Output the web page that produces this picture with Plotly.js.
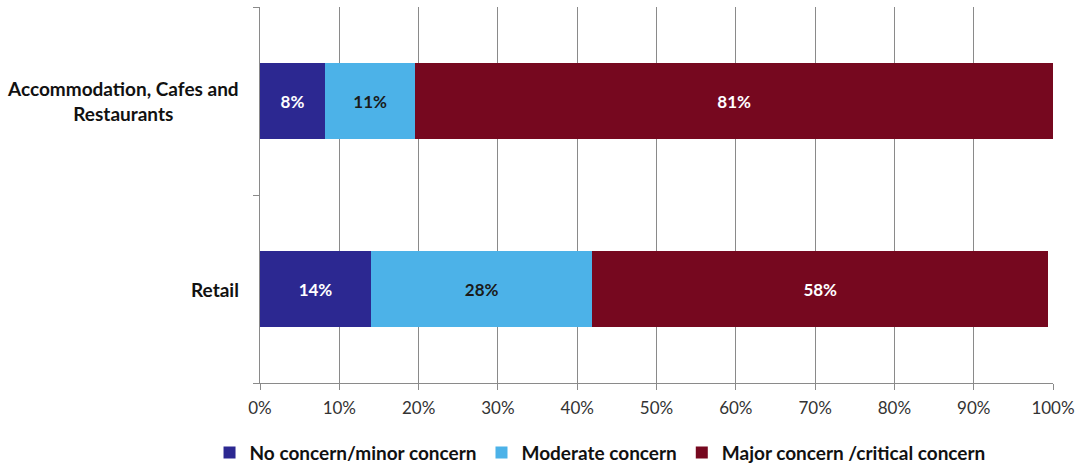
<!DOCTYPE html>
<html><head><meta charset="utf-8">
<script src="https://cdn.plot.ly/plotly-3.0.1.min.js"></script>
<style>html,body{margin:0;padding:0;background:#fff}#chart{width:1087px;height:469px}</style>
</head><body><div id="chart"></div>
<script>
const categories = ["Retail", "Accommodation, Cafes and<br>Restaurants"];
const seriesNames = ["No concern/minor concern", "Moderate concern", "Major concern /critical concern"];
const noConcern = [14.0, 8.2];
const moderate = [27.9, 11.4];
const major = [57.5, 80.4];
const labelsNo = ["14%", "8%"];
const labelsMod = ["28%", "11%"];
const labelsMaj = ["58%", "81%"];
const xTicks = [0,10,20,30,40,50,60,70,80,90,100];
const xTickText = xTicks.map(v => v + "%");

const font = "Lato, 'Open Sans', sans-serif";
function tr(name, vals, labels, color, txtColor){
  return {type:"bar", orientation:"h", name:name, y:categories, x:vals, text:labels,
    textposition:"inside", insidetextanchor:"middle", textangle:0,
    textfont:{family:font, size:17, color:txtColor, weight:"bold"},
    marker:{color:color}, width:0.4, hoverinfo:"x+name"};
}
const data = [
  tr(seriesNames[0], noConcern, labelsNo, "#2c2891", "#ffffff"),
  tr(seriesNames[1], moderate, labelsMod, "#4cb2e8", "#1a1a1a"),
  tr(seriesNames[2], major, labelsMaj, "#76081f", "#ffffff")
];
const annotations = categories.map(c => ({
  text:c, xref:"paper", yref:"y", x:0, y:c, xanchor:"right", yanchor:"middle", xshift:-19,
  align:"center", showarrow:false, font:{size:19, color:"#111", family:font, weight:"bold"}
}));
const layout = {
  width:1087, height:469, barmode:"stack",
  margin:{l:260, r:34, t:7, b:86, autoexpand:false},
  paper_bgcolor:"#fff", plot_bgcolor:"#fff",
  font:{family:font, color:"#222"},
  xaxis:{range:[0,100], tickvals:xTicks, ticktext:xTickText, showgrid:true, gridcolor:"#8a8a8a", gridwidth:1,
    showline:true, linecolor:"#8a8a8a", ticks:"outside", ticklen:6, tickcolor:"#8a8a8a", ticklabelstandoff:4,
    tickfont:{size:17, color:"#333", family:font}, zeroline:false, fixedrange:true, automargin:false},
  yaxis:{type:"category", range:[-0.5,1.5], showgrid:false, showline:true, linecolor:"#8a8a8a",
    ticks:"outside", ticklen:6, tickcolor:"#8a8a8a", tickson:"boundaries", showticklabels:false,
    fixedrange:true, automargin:false},
  annotations:annotations,
  showlegend:true,
  legend:{orientation:"h", xref:"container", x:0.552, xanchor:"center", yref:"container", y:0.035, yanchor:"middle",
    font:{size:19, color:"#111", family:font, weight:"bold"}, traceorder:"normal"},
  bargap:0.6
};
Plotly.newPlot("chart", data, layout, {displayModeBar:false, staticPlot:true});
</script></body></html>
